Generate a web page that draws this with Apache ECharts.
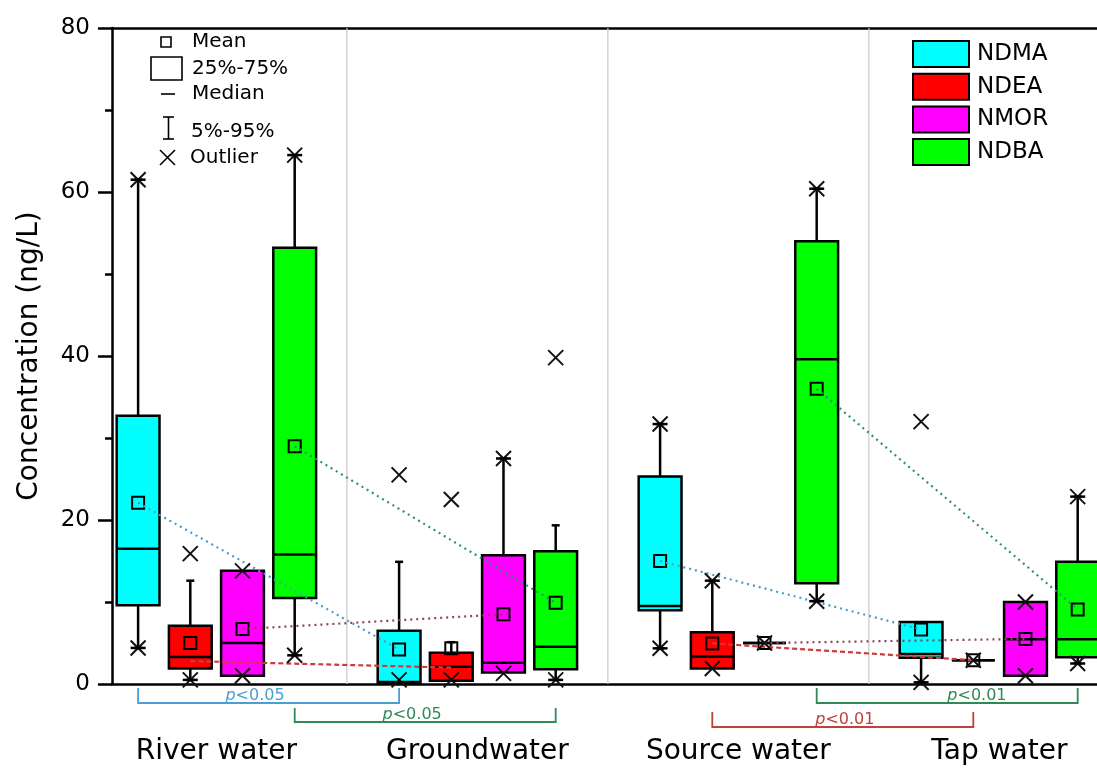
<!DOCTYPE html>
<html><head><meta charset="utf-8">
<script src="https://cdn.jsdelivr.net/npm/echarts@6/dist/echarts.min.js"></script>
<style>html,body{margin:0;padding:0;background:#fff}#c{width:1097px;height:770px}</style>
</head><body><div id="c"></div>
<script>
// ---------- data ----------
const sites = ['River water', 'Groundwater', 'Source water', 'Tap water'];
const compounds = ['NDMA', 'NDEA', 'NMOR', 'NDBA'];
const yTicks = [0, 20, 40, 60, 80];
// per site: [whiskerLow, q1, median, q3, whiskerHigh, mean]
const statsNDMA = [[4.4, 9.6, 16.5, 32.7, 61.5, 22.1], [0.15, 0.15, 0.25, 6.5, 14.9, 4.2], [4.35, 9.0, 9.5, 25.3, 31.7, 15.0], [0.2, 3.2, 3.65, 7.55, 7.55, 6.65]];
const statsNDEA = [[0.5, 1.9, 3.3, 7.1, 12.6, 5.0], [0.4, 0.4, 2.1, 3.8, 5.1, 4.35], [1.9, 1.9, 3.35, 6.3, 12.6, 4.95], [2.9, 2.9, 2.9, 2.9, 2.9, 2.9]];
const statsNMOR = [[1.0, 1.0, 5.0, 13.8, 13.8, 6.7], [1.4, 1.4, 2.6, 15.7, 27.5, 8.5], [5.0, 5.0, 5.0, 5.0, 5.0, 5.0], [1.0, 1.0, 5.45, 10.0, 10.0, 5.5]];
const statsNDBA = [[3.5, 10.5, 15.8, 53.2, 64.5, 29.0], [0.5, 1.8, 4.55, 16.2, 19.35, 9.9], [10.1, 12.3, 39.6, 54.0, 60.4, 36.0], [2.5, 3.25, 5.45, 14.9, 22.85, 9.1]];
// outlier (x) markers per site
const crossNDMA = [[61.5, 4.4], [25.5, 0.5], [31.7, 4.35], [32.0, 0.2]];
const crossNDEA = [[15.9, 0.5], [22.5, 0.5], [12.6, 1.9], [2.9]];
const crossNMOR = [[13.8, 1.0], [27.5, 1.3], [5.0], [10.0, 1.0]];
const crossNDBA = [[64.5, 3.5], [39.8, 0.5], [60.4, 10.1], [22.85, 2.5]];
// dotted trend lines: [river->ground], [source->tap]
const trendNDMA = [[22.1, 4.2], [15.0, 6.65]];
const trendNDEA = [[2.8, 2.0], [4.95, 2.9]];
const trendNMOR = [[6.7, 8.5], [5.0, 5.5]];
const trendNDBA = [[29.0, 9.9], [36.0, 9.1]];
// significance brackets (box positions)
const bracketFrom = [1, 4, 14, 12];
const bracketTo = [6, 9, 19, 17];
const bracketText = ['<0.05', '<0.05', '<0.01', '<0.01'];
const bracketTextPos = [3.24, 6.25, 17.07, 14.54];

// ---------- styles ----------
const boxColors = ['#00ffff', '#ff0000', '#ff00ff', '#00ff00'];
const trendColors = ['#4a9cc8', '#d03a3a', '#8e4256', '#2f8f78'];
const trendTypes = [[2, 4], [5, 3], [2, 4], [2, 4]];
const bracketColors = ['#4aa0d4', '#2e8b57', '#2e8b57', '#c0403c'];
const bracketTop = [4, 24, 4, 28];     // px below axis
const bracketBottom = [19, 38, 19, 43];
const FONT = 'DejaVu Sans';
const TXT = '#000';

const allStats = [statsNDMA, statsNDEA, statsNMOR, statsNDBA];
const allCross = [crossNDMA, crossNDEA, crossNMOR, crossNDBA];
const allTrend = [trendNDMA, trendNDEA, trendNMOR, trendNDBA];
const pos = (s, c) => s * 5 + c + 1;

const chart = echarts.init(document.getElementById('c'), null, {renderer: 'canvas'});

function boxRender(ci) {
  return function (params, api) {
    const x = api.value(0);
    const lo = api.value(1), q1 = api.value(2), md = api.value(3), q3 = api.value(4), hi = api.value(5), mn = api.value(6);
    const cx = api.coord([x, 0])[0];
    const hw = api.size([0.82, 0])[0] / 2;
    const Y = v => api.coord([x, v])[1];
    const ls = {stroke: '#000', lineWidth: 2.5};
    const ch = [];
    if (hi > q3) {
      ch.push({type: 'line', shape: {x1: cx, y1: Y(q3), x2: cx, y2: Y(hi)}, style: ls});
      ch.push({type: 'line', shape: {x1: cx - 4, y1: Y(hi), x2: cx + 4, y2: Y(hi)}, style: ls});
    }
    if (lo < q1) {
      ch.push({type: 'line', shape: {x1: cx, y1: Y(q1), x2: cx, y2: Y(lo)}, style: ls});
      ch.push({type: 'line', shape: {x1: cx - 4, y1: Y(lo), x2: cx + 4, y2: Y(lo)}, style: ls});
    }
    ch.push({type: 'rect', shape: {x: cx - hw, y: Y(q3), width: hw * 2, height: Y(q1) - Y(q3)},
      style: {fill: boxColors[ci], stroke: '#000', lineWidth: 2.5}});
    ch.push({type: 'line', shape: {x1: cx - hw, y1: Y(md), x2: cx + hw, y2: Y(md)}, style: ls});
    ch.push({type: 'rect', shape: {x: cx - 6, y: Y(mn) - 6, width: 12, height: 12},
      style: {fill: 'none', stroke: '#000', lineWidth: 2}, z2: 5});
    return {type: 'group', children: ch};
  };
}

function crossRender(params, api) {
  const p = api.coord([api.value(0), api.value(1)]);
  const bar = api.value(2);
  const h = 7.5, ls = {stroke: '#111', lineWidth: 2};
  const ch = [
    {type: 'line', shape: {x1: p[0] - h, y1: p[1] - h, x2: p[0] + h, y2: p[1] + h}, style: ls},
    {type: 'line', shape: {x1: p[0] - h, y1: p[1] + h, x2: p[0] + h, y2: p[1] - h}, style: ls}
  ];
  if (bar) ch.push({type: 'line', shape: {x1: p[0] - 7.5, y1: p[1], x2: p[0] + 7.5, y2: p[1]}, style: {stroke: '#000', lineWidth: 2.5}});
  return {type: 'group', children: ch};
}

const series = [];
// dividers
series.push({
  type: 'custom', silent: true, z: 1, data: [5, 10, 15],
  renderItem: (params, api) => {
    const a = api.coord([api.value(0), 0]), b = api.coord([api.value(0), 80]);
    return {type: 'line', shape: {x1: a[0], y1: a[1], x2: b[0], y2: b[1]}, style: {stroke: '#c8c8c8', lineWidth: 1.2}};
  }
});
compounds.forEach((name, ci) => {
  const data = allStats[ci].map((st, si) => [pos(si, ci)].concat(st));
  series.push({type: 'custom', name, z: 2, clip: false, itemStyle: {color: boxColors[ci]},
    renderItem: boxRender(ci), data});
});
// outliers
const crossData = [];
compounds.forEach((name, ci) => {
  allCross[ci].forEach((list, si) => {
    const st = allStats[ci][si];
    list.forEach(v => {
      const bar = ((Math.abs(v - st[4]) < 1e-6 && st[4] > st[3]) || (Math.abs(v - st[0]) < 1e-6 && st[0] < st[1])) ? 1 : 0;
      crossData.push([pos(si, ci), v, bar]);
    });
  });
});
series.push({type: 'custom', z: 4, clip: false, silent: true, renderItem: crossRender, data: crossData});
// trend lines
compounds.forEach((name, ci) => {
  allTrend[ci].forEach((seg, k) => {
    series.push({
      type: 'line', z: 3, silent: true, symbol: 'none', animation: false,
      lineStyle: {color: trendColors[ci], width: 2.2, type: trendTypes[ci]},
      data: [[pos(k * 2, ci), seg[0]], [pos(k * 2 + 1, ci), seg[1]]]
    });
  });
});
// brackets
series.push({
  type: 'custom', z: 4, clip: false, silent: true,
  data: bracketFrom.map((f, i) => [f, bracketTo[i], bracketTextPos[i], i]),
  renderItem: (params, api) => {
    const i = api.value(3);
    const a = api.coord([api.value(0), 0]), b = api.coord([api.value(1), 0]);
    const t = api.coord([api.value(2), 0]);
    const yt = a[1] + bracketTop[i], yb = a[1] + bracketBottom[i];
    return {type: 'group', children: [
      {type: 'polyline', shape: {points: [[a[0], yt], [a[0], yb], [b[0], yb], [b[0], yt]]},
        style: {stroke: bracketColors[i], lineWidth: 1.8, fill: 'none'}},
      {type: 'text', x: t[0], y: yb + 1,
        style: {text: '{i|p}' + bracketText[i], x: 0, y: 0, align: 'center', verticalAlign: 'bottom',
          fill: bracketColors[i], font: '16px "' + FONT + '"',
          rich: {i: {fontStyle: 'italic', fontSize: 16, fontFamily: FONT, fill: bracketColors[i]}}}}
    ]};
  }
});
// site labels
series.push({
  type: 'custom', z: 4, clip: false, silent: true,
  data: sites.map((s, i) => [i * 5 + 2.5, i]),
  renderItem: (params, api) => {
    const p = api.coord([api.value(0), 0]);
    return {type: 'text', x: p[0], y: p[1] + 68,
      style: {text: sites[api.value(1)], align: 'center', verticalAlign: 'middle', fill: TXT, font: '28px "' + FONT + '"'}};
  }
});

const G = (t, o) => Object.assign({type: t, silent: true}, o);
const legendFont = '20px "' + FONT + '"';
const statLegend = [
  G('rect', {shape: {x: 161, y: 37, width: 10, height: 10}, style: {fill: 'none', stroke: '#000', lineWidth: 1.6}}),
  G('text', {x: 192, y: 42, style: {text: 'Mean', font: legendFont, fill: TXT, verticalAlign: 'middle'}}),
  G('rect', {shape: {x: 151, y: 57, width: 31, height: 23}, style: {fill: 'none', stroke: '#000', lineWidth: 1.6}}),
  G('text', {x: 192, y: 69, style: {text: '25%-75%', font: legendFont, fill: TXT, verticalAlign: 'middle'}}),
  G('line', {shape: {x1: 161, y1: 94, x2: 175, y2: 94}, style: {stroke: '#000', lineWidth: 1.6}}),
  G('text', {x: 192, y: 94, style: {text: 'Median', font: legendFont, fill: TXT, verticalAlign: 'middle'}}),
  G('polyline', {shape: {points: [[163, 117], [174, 117]]}, style: {stroke: '#000', lineWidth: 1.6}}),
  G('polyline', {shape: {points: [[168.5, 117], [168.5, 139]]}, style: {stroke: '#000', lineWidth: 1.6}}),
  G('polyline', {shape: {points: [[163, 139], [174, 139]]}, style: {stroke: '#000', lineWidth: 1.6}}),
  G('text', {x: 191, y: 132, style: {text: '5%-95%', font: legendFont, fill: TXT, verticalAlign: 'middle'}}),
  G('line', {shape: {x1: 160, y1: 150, x2: 175, y2: 165}, style: {stroke: '#000', lineWidth: 1.6}}),
  G('line', {shape: {x1: 160, y1: 165, x2: 175, y2: 150}, style: {stroke: '#000', lineWidth: 1.6}}),
  G('text', {x: 190, y: 158, style: {text: 'Outlier', font: legendFont, fill: TXT, verticalAlign: 'middle'}})
];

chart.setOption({
  animation: false,
  backgroundColor: '#fff',
  grid: {left: 112, top: 28, right: 0, bottom: 86, containLabel: false},
  legend: {
    orient: 'vertical', left: 912, top: 40, padding: 0, itemGap: 4.7,
    itemWidth: 56, itemHeight: 26, icon: 'rect', data: compounds, selectedMode: false,
    itemStyle: {borderColor: '#000', borderWidth: 2},
    textStyle: {fontSize: 23, fontFamily: FONT, color: TXT, padding: [0, 0, 0, 3]}
  },
  xAxis: [
    {type: 'value', min: 0.5, max: 19.37, axisLine: {lineStyle: {color: '#000', width: 2.5}},
      axisTick: {show: false}, axisLabel: {show: false}, splitLine: {show: false}},
    {type: 'value', position: 'top', min: 0.5, max: 19.37, axisLine: {show: true, lineStyle: {color: '#000', width: 2.5}},
      axisTick: {show: false}, axisLabel: {show: false}, splitLine: {show: false}}
  ],
  yAxis: {
    type: 'value', min: yTicks[0], max: yTicks[yTicks.length - 1], interval: yTicks[1] - yTicks[0],
    name: 'Concentration (ng/L)', nameLocation: 'middle', nameGap: 68,
    nameTextStyle: {fontSize: 28, fontFamily: FONT, color: TXT},
    axisLine: {show: true, lineStyle: {color: '#000', width: 2.5}},
    axisTick: {show: true, inside: false, length: 14, lineStyle: {color: '#000', width: 2.5}},
    minorTick: {show: true, splitNumber: 2, length: 7, lineStyle: {color: '#000', width: 2.5}},
    axisLabel: {fontSize: 23, fontFamily: FONT, color: TXT, margin: 22},
    splitLine: {show: false}
  },
  graphic: statLegend,
  series
});
</script></body></html>
